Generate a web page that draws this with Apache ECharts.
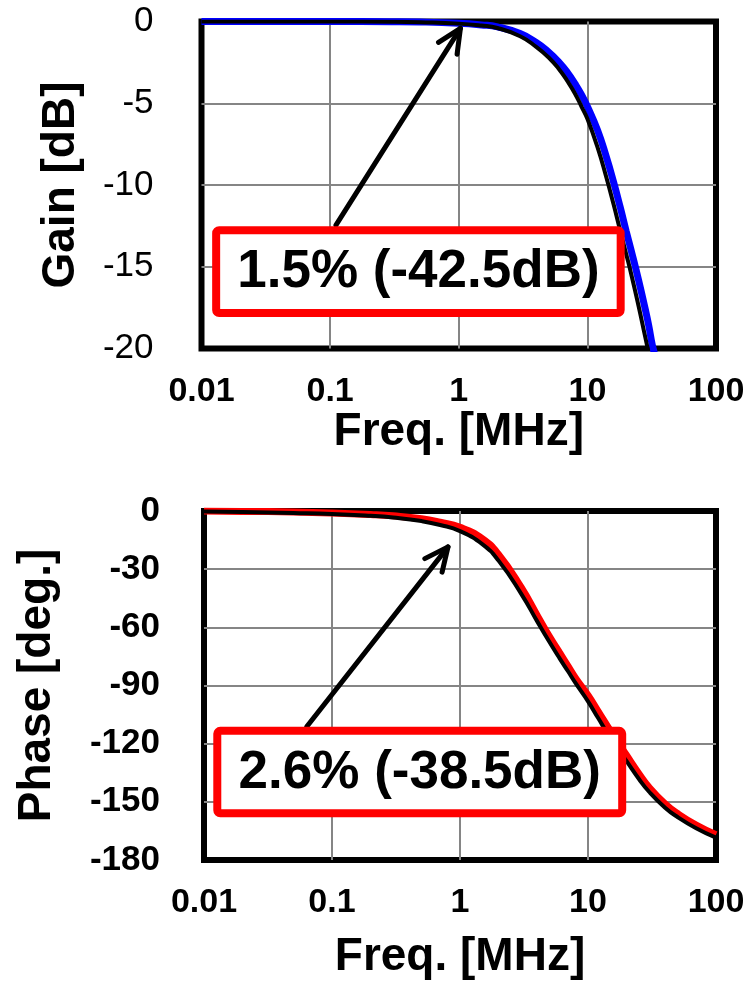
<!DOCTYPE html>
<html>
<head>
<meta charset="utf-8">
<script src="https://cdn.jsdelivr.net/npm/echarts@6/dist/echarts.min.js"></script>
<style>
  html, body { margin: 0; padding: 0; background: #fff; }
  #chart { width: 748px; height: 984px; }
</style>
</head>
<body>
<div id="chart"></div>
<script>
// gain plot (top)
const gainFreq = [0.01, 0.1, 0.3, 0.5, 1, 1.5, 2, 3, 4, 5, 6, 7, 8, 9, 10, 12, 14, 16, 18, 20, 22, 25, 28, 30, 32, 34, 36]
const gainBlue = [0, 0, -0.01, -0.03, -0.11, -0.21, -0.33, -0.74, -1.28, -1.87, -2.48, -3.12, -3.8, -4.48, -5.2, -6.65, -8.25, -9.83, -11.36, -12.8, -14.06, -15.82, -17.5, -18.6, -19.8, -20.6, -21.6]
const gainBlack = [0, 0, -0.02, -0.05, -0.13, -0.25, -0.4, -0.9, -1.55, -2.2, -2.9, -3.65, -4.4, -5.2, -5.95, -7.7, -9.5, -11.2, -12.8, -14.2, -15.5, -17.4, -19.2, -20.3, -21.4, -22.4, -23.3]

// phase plot (bottom)
const phaseFreq = [0.01, 0.02, 0.05, 0.1, 0.2, 0.3, 0.5, 0.7, 1, 1.5, 2, 3, 4, 5, 6, 7, 8, 10, 12, 15, 20, 25, 30, 40, 50, 70, 100]
const phaseRed = [0, -0.2, -0.5, -1, -1.8, -2.5, -4, -5.8, -8.4, -14.4, -22.4, -39.3, -53.7, -64.8, -73.1, -80.1, -86.2, -95, -103.3, -113.5, -126, -135.5, -142.5, -151, -156, -162, -167]
const phaseBlack = [-0.3, -0.5, -1, -1.5, -2.5, -3.4, -5.2, -7.2, -10.4, -17.2, -25.6, -42.6, -56.8, -67.6, -76, -82.8, -88.8, -98.2, -106.8, -117.2, -129, -138.2, -144.8, -153, -157.8, -163.6, -168.5]

const xTickLabels = ['0.01', '0.1', '1', '10', '100']

// annotations (data units)
const gainNote = '1.5% (-42.5dB)'
const gainArrow = [[0.111, -12.45], [1.03, -0.42]]
const gainBox = [[0.013, -12.76], [18.15, -17.83]]
const phaseNote = '2.6% (-38.5dB)'
const phaseArrow = [[0.0634, -111.3], [0.806, -18.5]]
const phaseBox = [[0.0127, -113.4], [18.5, -155.9]]

const FONT = "'Liberation Sans', Arial, sans-serif"

function pairs(xs, ys) {
  return xs.map((x, i) => [x, ys[i]])
}

function xAxisOpt(gridIndex, nameGap) {
  return {
    gridIndex: gridIndex,
    type: 'log',
    logBase: 10,
    min: 0.01,
    max: 100,
    axisLine: { show: false },
    axisTick: { show: false },
    splitLine: {
      show: true,
      showMinLine: false,
      showMaxLine: false,
      lineStyle: { color: '#858585', width: 2 }
    },
    axisLabel: {
      margin: 26,
      color: '#000',
      fontSize: 34,
      fontWeight: 'bold',
      fontFamily: FONT,
      formatter: (v) => xTickLabels[Math.round(Math.log10(v)) + 2]
    },
    name: 'Freq. [MHz]',
    nameLocation: 'middle',
    nameGap: nameGap,
    nameTextStyle: { color: '#000', fontSize: 46, fontWeight: 'bold', fontFamily: FONT }
  }
}

function yAxisOpt(gridIndex, min, interval, name, nameGap, margin, weight) {
  return {
    gridIndex: gridIndex,
    type: 'value',
    min: min,
    max: 0,
    interval: interval,
    axisLine: { show: false },
    axisTick: { show: false },
    splitLine: {
      show: true,
      showMinLine: false,
      showMaxLine: false,
      lineStyle: { color: '#858585', width: 2 }
    },
    axisLabel: {
      margin: margin,
      color: '#000',
      fontSize: 35,
      fontWeight: weight,
      fontFamily: FONT
    },
    name: name,
    nameLocation: 'middle',
    nameGap: nameGap,
    nameTextStyle: { color: '#000', fontSize: 46, fontWeight: 'bold', fontFamily: FONT }
  }
}

function lineSeries(idx, data, color, width, z) {
  return {
    type: 'line',
    xAxisIndex: idx,
    yAxisIndex: idx,
    data: data,
    smooth: 0.5,
    showSymbol: false,
    symbol: 'none',
    clip: true,
    z: z,
    lineStyle: { color: color, width: width }
  }
}

const chart = echarts.init(document.getElementById('chart'), null, { renderer: 'canvas' })

chart.setOption({
  animation: false,
  backgroundColor: '#fff',
  grid: [
    { left: 201.5, right: 32, top: 21.5, height: 327, show: true, borderColor: '#000', borderWidth: 6 },
    { left: 204, right: 32, top: 511, height: 349, show: true, borderColor: '#000', borderWidth: 6 }
  ],
  xAxis: [xAxisOpt(0, 58), xAxisOpt(1, 74)],
  yAxis: [
    yAxisOpt(0, -20, 5, 'Gain [dB]', 117, 48, 'normal'),
    yAxisOpt(1, -180, 30, 'Phase [deg.]', 144, 44, 'bold')
  ],
  series: [
    lineSeries(0, pairs(gainFreq, gainBlue), '#0000ff', 7, 3),
    lineSeries(0, pairs(gainFreq, gainBlack), '#000', 4, 4),
    lineSeries(1, pairs(phaseFreq, phaseRed), '#ff0000', 7, 3),
    lineSeries(1, pairs(phaseFreq, phaseBlack), '#000', 4, 4)
  ]
})

// arrow + boxed note, placed through the grid's own scales
function note(gridIndex, arrow, box, text) {
  const p0 = chart.convertToPixel({ gridIndex: gridIndex }, arrow[0])
  const p1 = chart.convertToPixel({ gridIndex: gridIndex }, arrow[1])
  const b0 = chart.convertToPixel({ gridIndex: gridIndex }, box[0])
  const b1 = chart.convertToPixel({ gridIndex: gridIndex }, box[1])
  const ang = Math.atan2(p0[1] - p1[1], p0[0] - p1[0])
  const head = 26
  const spread = 25 * Math.PI / 180
  const w1 = [p1[0] + head * Math.cos(ang - spread), p1[1] + head * Math.sin(ang - spread)]
  const w2 = [p1[0] + head * Math.cos(ang + spread), p1[1] + head * Math.sin(ang + spread)]
  const lineStyle = { stroke: '#000', lineWidth: 5, lineCap: 'round', lineJoin: 'round', fill: null }
  return [
    { type: 'polyline', z: 10, shape: { points: [p0, p1] }, style: lineStyle },
    { type: 'polyline', z: 10, shape: { points: [w1, p1, w2] }, style: lineStyle },
    {
      type: 'rect',
      z: 11,
      shape: { x: b0[0], y: b0[1], width: b1[0] - b0[0], height: b1[1] - b0[1], r: 3 },
      style: { fill: '#fff', stroke: '#ff0000', lineWidth: 8 }
    },
    {
      type: 'text',
      z: 12,
      style: {
        text: text,
        x: (b0[0] + b1[0]) / 2,
        y: (b0[1] + b1[1]) / 2 + 1,
        align: 'center',
        verticalAlign: 'middle',
        fill: '#000',
        fontSize: 53,
        fontWeight: 'bold',
        fontFamily: FONT
      }
    }
  ]
}

chart.setOption({
  graphic: note(0, gainArrow, gainBox, gainNote).concat(note(1, phaseArrow, phaseBox, phaseNote))
})
</script>
</body>
</html>
